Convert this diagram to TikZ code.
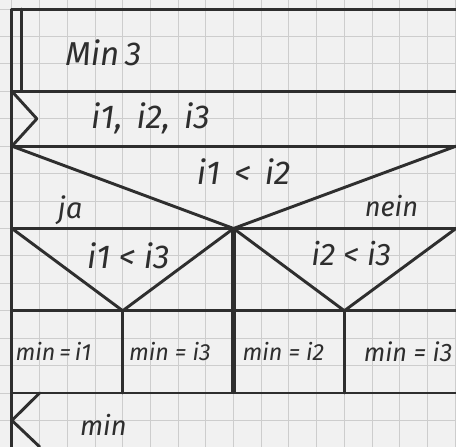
\documentclass[tikz,border=0pt]{standalone}
\usepackage{fontspec}
\setmainfont{Fira Sans}
\usepackage{xcolor}
\usepackage{tikz}
\usetikzlibrary{positioning,calc}
\definecolor{cInk}{HTML}{2E2E2E}
\definecolor{cGrid}{HTML}{CDCDCD}
\definecolor{cPaper}{HTML}{F1F1F1}
\tikzset{
  ink/.style    = {draw=cInk, line width=1.5pt, line join=round, line cap=round},
  inkb/.style   = {draw=cInk, line width=3pt},
  gridln/.style = {draw=cGrid, line width=0.5pt},
  txt/.style    = {text=cInk, inner sep=0pt, font=\fontsize{17}{19}\selectfont\itshape},
  big/.style    = {txt, font=\fontsize{17}{20}\selectfont\itshape},
  sm/.style     = {txt, font=\fontsize{12}{14}\selectfont\itshape},
}

\begin{document}
\begin{tikzpicture}[x=0.5cm, y=0.495cm]
  % paper
  \fill[cPaper] (-0.43,0.33) rectangle (16.03,-15.96);
  \useasboundingbox (-0.43,0.33) rectangle (16.03,-15.96);
  \foreach \k in {0,...,16}
    \draw[gridln] (\k,0.33) -- (\k,-15.96);
  \foreach \k in {0,...,15}
    \draw[gridln] (-0.43,-\k) -- (16.03,-\k);

  % frame and block borders
  \draw[ink] (0,-15.96) -- (0,0) -- (16.03,0);
  \draw[ink] (0.33,0) -- (0.33,-3);
  \foreach \yy in {3,5,8,11,14}
    \draw[ink] (0,-\yy) -- (16.03,-\yy);

  % input / output marks
  \draw[ink] (0,-3) -- (0.9,-4) -- (0,-5);
  \draw[ink] (1,-14) -- (0,-15) -- (1,-15.96);

  % decisions
  \draw[ink] (0,-5) -- (8,-8) -- (16.03,-5);
  \draw[ink] (0,-8) -- (4,-11) -- (8,-8) -- (12,-11) -- (16.03,-8);
  \draw[inkb] (8,-8) -- (8,-14);
  \draw[ink] (4,-11) -- (4,-14);
  \draw[ink] (12,-11) -- (12,-14);

  % texts
  \node[big] (name) at (3.3,-1.6) {Min\,3};
  \node[txt] (par)  at (5.0,-4.0)  {i1,\, i2,\, i3};
  \node[txt] (c1)   at (8.36,-5.94) {i1 \,<\, i2};
  \node[sm, font=\fontsize{15}{17}\selectfont\itshape] (yes) at (2.1,-7.35) {ja};
  \node[sm, font=\fontsize{14}{16}\selectfont\itshape] (no)  at (13.7,-7.2) {nein};
  \node[txt] (c2)   at (4.2,-9.0)  {i1 < i3};
  \node[txt, font=\fontsize{16}{18}\selectfont\itshape] (c3) at (12.25,-8.9) {i2 < i3};
  \node[sm]  (a1)   at (1.5,-12.5) {min\,=\,i1};
  \node[sm]  (a2)   at (5.7,-12.5) {min = i3};
  \node[sm]  (a3)   at (9.8,-12.5) {min = i2};
  \node[sm, font=\fontsize{13}{15}\selectfont\itshape] (a4) at (14.3,-12.5) {min = i3};
  \node[sm, font=\fontsize{14}{16}\selectfont\itshape] (res) at (3.3,-15.15) {min};
\end{tikzpicture}
\end{document}
